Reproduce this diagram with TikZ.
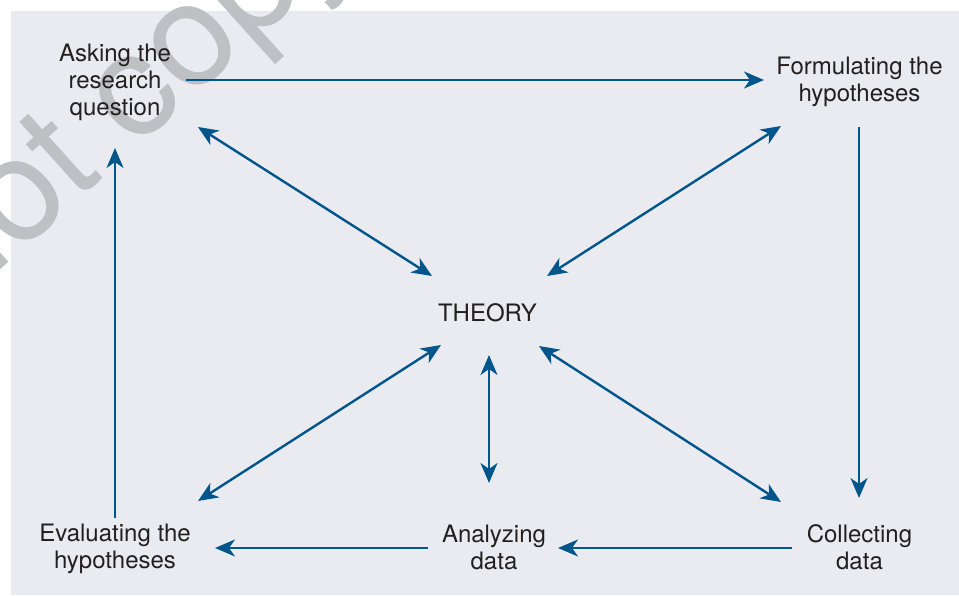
\documentclass[tikz,border=0pt]{standalone}
\usepackage{fontspec}
\setmainfont{TeX Gyre Heros}
\usetikzlibrary{arrows.meta}
\definecolor{bgcol}{HTML}{EAEBF0}
\definecolor{arrcol}{HTML}{00568A}
\definecolor{txtcol}{HTML}{231F20}
\definecolor{wmcol}{HTML}{BFC0C4}
\tikzset{
  lbl/.style={align=center, text=txtcol, inner sep=0pt,
    font=\fontsize{24}{27}\selectfont},
  conn/.style={draw=arrcol, line width=2.4pt,
    -{Stealth[length=20pt,width=17pt,inset=6pt]}},
  bconn/.style={draw=arrcol, line width=2.4pt,
    {Stealth[length=20pt,width=17pt,inset=6pt]}-{Stealth[length=20pt,width=17pt,inset=6pt]}},
  wmark/.style={text=wmcol, inner sep=0pt,
    font=\fontsize{145}{145}\selectfont}
}
\begin{document}
\begin{tikzpicture}[x=1pt,y=-1pt]
\useasboundingbox (0,0) rectangle (959,595);
\clip (0,0) rectangle (959,595);
\fill[bgcol] (11,11) rectangle (959,595);
\node[wmark, rotate=42, anchor=base west] (wm) at (-44,310) {not copy};

\node[lbl] (asking) at (115,82) {Asking the\\research\\question};
\node[lbl] (form) at (859.5,82) {Formulating the\\hypotheses};
\node[lbl] (theory) at (487.5,313) {THEORY};
\node[lbl] (eval) at (115,549) {Evaluating the\\hypotheses};
\node[lbl] (analyze) at (494,547) {Analyzing\\data};
\node[lbl] (collect) at (859.5,547) {Collecting\\data};

\draw[conn] ([shift={(71,-2)}]asking.center) -- ([shift={(-95.5,-2)}]form.center);
\draw[conn] ([shift={(-0.5,45)}]form.center) -- ([shift={(-0.5,-49)}]collect.center);
\draw[conn] ([shift={(-67.5,1)}]collect.center) -- ([shift={(64,1)}]analyze.center);
\draw[conn] ([shift={(-66,1)}]analyze.center) -- ([shift={(100,-1)}]eval.center);
\draw[conn] ([shift={(0,-31)}]eval.center) -- ([shift={(0,66)}]asking.center);

\draw[bconn] ([shift={(83,45)}]asking.center) -- ([shift={(-55.5,-37)}]theory.center);
\draw[bconn] ([shift={(-78.5,44)}]form.center) -- ([shift={(59.5,-37)}]theory.center);
\draw[bconn] ([shift={(83,-48)}]eval.center) -- ([shift={(-46.5,32)}]theory.center);
\draw[bconn] ([shift={(-78.5,-45)}]collect.center) -- ([shift={(51.5,33)}]theory.center);
\draw[bconn] ([shift={(-5,-64)}]analyze.center) -- ([shift={(1.5,42)}]theory.center);
\end{tikzpicture}
\end{document}
